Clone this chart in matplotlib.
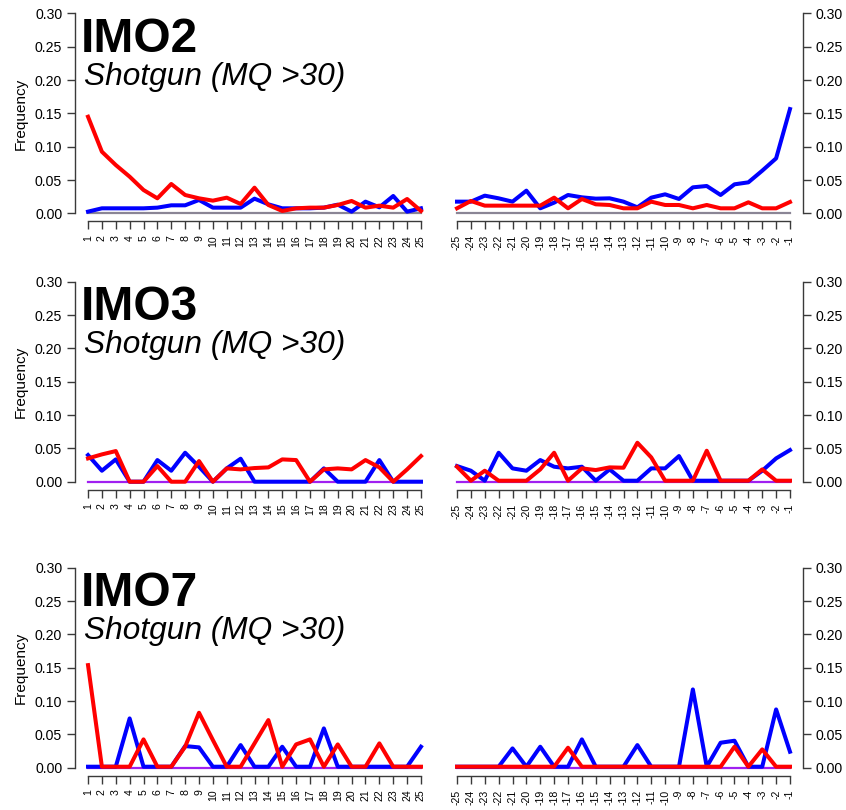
import matplotlib.pyplot as plt

plt.rcParams['font.family'] = ['Liberation Sans', 'DejaVu Sans']

pos5 = list(range(1, 26))
pos3 = list(range(-25, 0))
samples = ["IMO2", "IMO3", "IMO7"]
subtitle = "Shotgun (MQ >30)"
yticks = [0.0, 0.05, 0.10, 0.15, 0.20, 0.25, 0.30]

# C>T (red) and G>A (blue), 5' end positions 1..25
imo2_ct_5 = [0.145, 0.0925, 0.0725, 0.055, 0.035, 0.0225, 0.044, 0.0275, 0.0225, 0.019,
             0.0235, 0.014, 0.0385, 0.0125, 0.0035, 0.0075, 0.0085, 0.0085, 0.0125, 0.0185,
             0.0085, 0.0115, 0.0085, 0.0215, 0.0035]
imo2_ga_5 = [0.0025, 0.0075, 0.0075, 0.0075, 0.0075, 0.0085, 0.012, 0.012, 0.02, 0.0085,
             0.0085, 0.0085, 0.022, 0.0135, 0.0075, 0.0075, 0.0075, 0.0085, 0.013, 0.0025,
             0.0175, 0.009, 0.026, 0.0025, 0.0075]
# 3' end positions -25..-1
imo2_ct_3 = [0.0075, 0.0185, 0.0115, 0.0115, 0.0115, 0.0115, 0.0115, 0.0235, 0.0075, 0.0215,
             0.0135, 0.0125, 0.0075, 0.0075, 0.0175, 0.0125, 0.0125, 0.0075, 0.0125, 0.0075,
             0.0075, 0.0165, 0.0075, 0.0075, 0.017]
imo2_ga_3 = [0.0175, 0.0175, 0.0265, 0.0225, 0.0175, 0.034, 0.0075, 0.016, 0.0275, 0.024,
             0.022, 0.0225, 0.0175, 0.009, 0.0235, 0.0285, 0.0215, 0.039, 0.041, 0.0275,
             0.0435, 0.0465, 0.064, 0.0825, 0.1565]

imo3_ct_5 = [0.035, 0.041, 0.046, 0.0, 0.0, 0.0235, 0.0, 0.0, 0.031, 0.0,
             0.02, 0.0185, 0.0205, 0.0215, 0.0335, 0.0325, 0.0, 0.0185, 0.02, 0.0185,
             0.0325, 0.0215, 0.0, 0.0185, 0.0385]
imo3_ga_5 = [0.04, 0.0165, 0.0335, 0.0, 0.0, 0.0325, 0.0165, 0.0435, 0.0225, 0.0,
             0.02, 0.0345, 0.0, 0.0, 0.0, 0.0, 0.0, 0.02, 0.0, 0.0,
             0.0, 0.0325, 0.0, 0.0, 0.0]
imo3_ct_3 = [0.0225, 0.0015, 0.0165, 0.0015, 0.0015, 0.0015, 0.0185, 0.0435, 0.0015, 0.02,
             0.0175, 0.0215, 0.021, 0.0585, 0.0365, 0.0015, 0.0015, 0.0015, 0.0465, 0.0015,
             0.0015, 0.0015, 0.0185, 0.0015, 0.0015]
imo3_ga_3 = [0.0235, 0.0165, 0.0015, 0.0435, 0.02, 0.0165, 0.0325, 0.0225, 0.02, 0.0225,
             0.0015, 0.0185, 0.0015, 0.0015, 0.02, 0.02, 0.0385, 0.0015, 0.0015, 0.0015,
             0.0015, 0.0015, 0.0165, 0.035, 0.0475]

imo7_ct_5 = [0.154, 0.0015, 0.0015, 0.0015, 0.0425, 0.0015, 0.0015, 0.0315, 0.0825, 0.0415,
             0.0015, 0.0015, 0.0365, 0.0715, 0.0015, 0.035, 0.0425, 0.0015, 0.035, 0.0015,
             0.0015, 0.0365, 0.0015, 0.0015, 0.0015]
imo7_ga_5 = [0.0015, 0.0015, 0.0015, 0.074, 0.0015, 0.0015, 0.0015, 0.0325, 0.0305, 0.0015,
             0.0015, 0.034, 0.0015, 0.0015, 0.0315, 0.0015, 0.0015, 0.059, 0.0015, 0.0015,
             0.0015, 0.0015, 0.0015, 0.0015, 0.0315]
imo7_ct_3 = [0.0015, 0.0015, 0.0015, 0.0015, 0.0015, 0.0015, 0.0015, 0.0015, 0.03, 0.0015,
             0.0015, 0.0015, 0.0015, 0.0015, 0.0015, 0.0015, 0.0015, 0.0015, 0.0015, 0.0015,
             0.0315, 0.0015, 0.0275, 0.0015, 0.0015]
imo7_ga_3 = [0.0015, 0.0015, 0.0015, 0.0015, 0.029, 0.0015, 0.0315, 0.0015, 0.0015, 0.0425,
             0.0015, 0.0015, 0.0015, 0.034, 0.0015, 0.0015, 0.0015, 0.1175, 0.0015, 0.0375,
             0.0405, 0.0015, 0.0015, 0.0875, 0.024]

ct5 = [imo2_ct_5, imo3_ct_5, imo7_ct_5]
ga5 = [imo2_ga_5, imo3_ga_5, imo7_ga_5]
ct3 = [imo2_ct_3, imo3_ct_3, imo7_ct_3]
ga3 = [imo2_ga_3, imo3_ga_3, imo7_ga_3]
zero_cols = ["#8a8595", "#a020f0", "#a020f0"]

W, H = 846, 810
fig = plt.figure(figsize=(W / 100, H / 100), dpi=100)

row_bottom = [221.3, 489.7, 775.7]
ax_h = 215.8
ax_w = 359.6
left_x = [74.7, 443.7]
axcol = "#3a3a3a"


def style(ax, side, xs):
    ax.set_ylim(-0.012, 0.312)
    ax.set_xlim(xs[0] - 0.96, xs[-1] + 0.96)
    ax.spines['top'].set_visible(False)
    if side == 'left':
        ax.spines['right'].set_visible(False)
        sp = ax.spines['left']
    else:
        ax.spines['left'].set_visible(False)
        sp = ax.spines['right']
        ax.yaxis.tick_right()
    sp.set_bounds(0, 0.3)
    sp.set_color(axcol)
    sp.set_linewidth(1.0)
    ax.spines['bottom'].set_bounds(xs[0], xs[-1])
    ax.spines['bottom'].set_color(axcol)
    ax.spines['bottom'].set_linewidth(1.0)
    ax.set_yticks(yticks)
    ax.set_yticklabels(["%.2f" % v for v in yticks])
    ax.set_xticks(xs)
    ax.set_xticklabels([str(v) for v in xs], rotation=90, va='top', fontsize=7.6)
    ax.tick_params(axis='y', length=6, width=1.0, color=axcol, pad=3, labelsize=10.2)
    ax.tick_params(axis='x', length=6, width=1.0, color=axcol, pad=4)
    ax.patch.set_visible(False)


for i in range(3):
    b = 1 - row_bottom[i] / H
    axl = fig.add_axes([left_x[0] / W, b, ax_w / W, ax_h / H])
    axr = fig.add_axes([left_x[1] / W, b, ax_w / W, ax_h / H])

    axl.plot([pos5[0], pos5[-1]], [0, 0], color=zero_cols[i], lw=1.6)
    axl.plot(pos5, ga5[i], color="#0000ff", lw=2.9, solid_joinstyle='round')
    axl.plot(pos5, ct5[i], color="#ff0000", lw=2.9, solid_joinstyle='round')
    style(axl, 'left', pos5)
    axl.set_ylabel("Frequency", fontsize=11, labelpad=5)

    axr.plot([pos3[0], pos3[-1]], [0, 0], color=zero_cols[i], lw=1.6)
    axr.plot(pos3, ga3[i], color="#0000ff", lw=2.9, solid_joinstyle='round')
    axr.plot(pos3, ct3[i], color="#ff0000", lw=2.9, solid_joinstyle='round')
    style(axr, 'right', pos3)

    axl.text(0.016, 0.786, samples[i], transform=axl.transAxes, fontsize=34.5,
             fontweight='bold', va='baseline', ha='left')
    axl.text(0.0245, 0.632, subtitle, transform=axl.transAxes, fontsize=22.8,
             fontstyle='italic', va='baseline', ha='left')

fig.savefig("out.png", dpi=100)
